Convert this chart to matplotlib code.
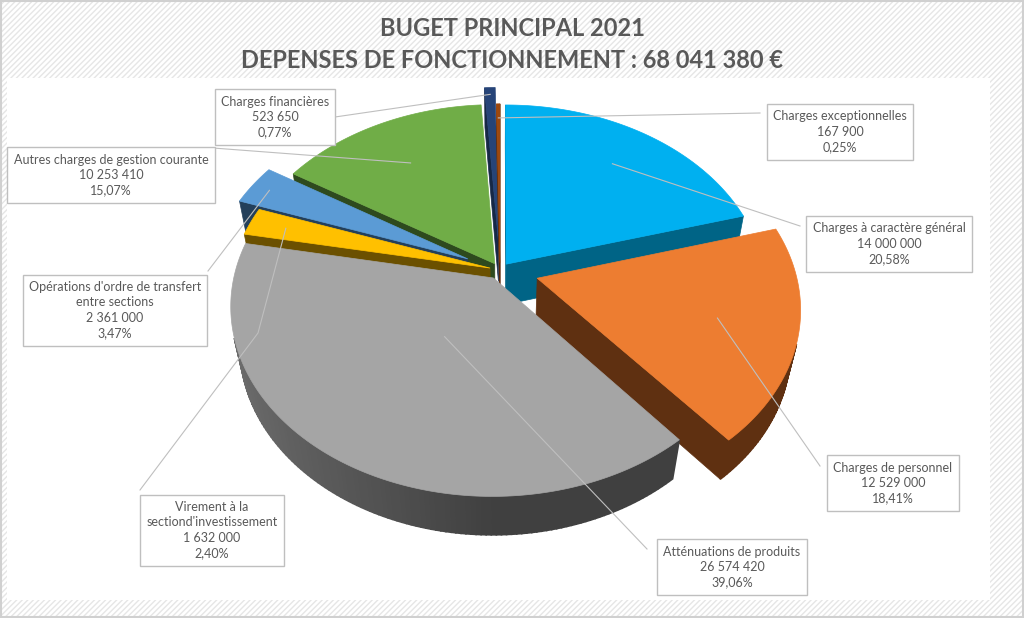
import numpy as np
import matplotlib.pyplot as plt
from matplotlib.patches import Polygon, Rectangle
import matplotlib.colors as mcolors

plt.rcParams['font.family'] = ['Lato', 'DejaVu Sans']
plt.rcParams['hatch.linewidth'] = 1.0

# data (order of the Excel series, first slice starts at 12 o'clock, clockwise)
categories = ["Charges à caractère général", "Charges de personnel", "Atténuations de produits",
              "Virement à la\nsectiond'investissement", "Opérations d'ordre de transfert\nentre sections",
              "Autres charges de gestion courante", "Charges financières", "Charges exceptionnelles"]
amounts = [14000000, 12529000, 26574420, 1632000, 2361000, 10253410, 523650, 167900]
title_lines = ["BUGET PRINCIPAL 2021", "DEPENSES DE FONCTIONNEMENT : 68 041 380 €"]

# styles
top_colors = ['#00B0F0', '#ED7D31', '#A5A5A5', '#FFC000', '#5B9BD5', '#70AD47', '#264478', '#9E480E']
wall_colors = ['#006486', '#5F3011', '#404040', '#6B5000', '#233F5A', '#2E4A1E', '#162846', '#5A2808']
explode = [0.04, 0.15, 0.05, 0.04, 0.14, 0.04, 0.16, 0.04]

# label boxes (centre) and where the leader line leaves the box
label_pos = [(889, 244), (893, 483), (732, 567), (212, 530), (115, 310), (111, 175), (275, 117), (840, 132)]
leader_start = [(800, 226), (820, 466), (647, 549), (140, 490), (208, 271), (213, 148), (335, 117), (760, 113)]
leader_bend = [None, None, None, (258, 333), None, None, None, None]
leader_rho = [0.75, 0.7, 0.35, 0.85, 0.92, 0.7, 0.95, 0.9]

# 3d projection
CX, CY, S = 500, 270, 258
ELEV = np.radians(45.5)
DIST = 4.8
H = 0.23
cam = np.array([0.0, -DIST * np.cos(ELEV), DIST * np.sin(ELEV)])


def project(x, y, z):
    v = y * np.sin(ELEV) + z * np.cos(ELEV)
    d = y * np.cos(ELEV) - z * np.sin(ELEV)
    f = DIST / (DIST + d)
    return CX + S * x * f, CY - S * v * f


def visible(p, n):
    return np.dot(cam - p, n) > 0


fig = plt.figure(figsize=(10.24, 6.18), dpi=100)
ax = fig.add_axes([0, 0, 1, 1])
ax.set_xlim(0, 1024)
ax.set_ylim(618, 0)
ax.axis('off')

# background
ax.add_patch(Rectangle((0, 0), 1024, 618, facecolor='white', edgecolor='#E6E6E6', hatch='//////', lw=0, zorder=0))
ax.add_patch(Rectangle((1, 1), 1022, 616, facecolor='none', edgecolor='#D0D0D0', lw=1.5, zorder=1))
ax.add_patch(Rectangle((7, 78), 983, 522, facecolor='white', edgecolor='none', zorder=1))

for k, t in enumerate(title_lines):
    ax.text(512, 28 + 33 * k, t, ha='center', va='center', fontsize=17, fontweight='bold', color='#595959', zorder=2)

total = sum(amounts)
fracs = np.array(amounts) / total
ends = 90 - np.cumsum(fracs) * 360
starts = ends + fracs * 360

slices = []
for i in range(len(amounts)):
    a, b = np.radians(starts[i]), np.radians(ends[i])
    m = (a + b) / 2
    ox, oy = explode[i] * np.cos(m), explode[i] * np.sin(m)
    n = max(3, int(abs(starts[i] - ends[i])) + 2)
    th = np.linspace(a, b, n)
    faces = []
    wall = np.array(mcolors.to_rgb(wall_colors[i]))
    topc = np.array(mcolors.to_rgb(top_colors[i]))
    # radial faces
    for ang, nrm in ((a, np.array([-np.sin(a), np.cos(a), 0])), (b, np.array([np.sin(b), -np.cos(b), 0]))):
        p = np.array([ox + 0.5 * np.cos(ang), oy + 0.5 * np.sin(ang), -H / 2])
        if visible(p, nrm):
            xs = [ox, ox + np.cos(ang), ox + np.cos(ang), ox]
            ys = [oy, oy + np.sin(ang), oy + np.sin(ang), oy]
            zs = [0, 0, -H, -H]
            faces.append((np.column_stack(project(np.array(xs), np.array(ys), np.array(zs))), wall, 0.5))
    # outer wall
    for j in range(n - 1):
        tm = (th[j] + th[j + 1]) / 2
        nrm = np.array([np.cos(tm), np.sin(tm), 0])
        p = np.array([ox + np.cos(tm), oy + np.sin(tm), -H / 2])
        if visible(p, nrm):
            xs = ox + np.cos([th[j], th[j + 1], th[j + 1], th[j]])
            ys = oy + np.sin([th[j], th[j + 1], th[j + 1], th[j]])
            zs = np.array([0, 0, -H, -H])
            t = 0.45 * max(0, -np.cos(tm)) if np.sin(tm) < 0 else 0
            col = wall * (1 - t) + topc * t
            faces.append((np.column_stack(project(xs, ys, zs)), col, 1.2))
    # top face
    xs = np.concatenate([[ox], ox + np.cos(th)])
    ys = np.concatenate([[oy], oy + np.sin(th)])
    faces.append((np.column_stack(project(xs, ys, np.zeros_like(xs))), topc, 0.5))
    depth = (oy + 0.5 * np.sin(m)) * np.cos(ELEV)
    rho = leader_rho[i]
    anchor = project(ox + rho * np.cos(m), oy + rho * np.sin(m), 0)
    slices.append((depth, faces, anchor))

order = sorted(range(len(slices)), key=lambda i: -slices[i][0])
for z, i in enumerate(order):
    for poly, col, lw in slices[i][1]:
        ax.add_patch(Polygon(poly, closed=True, facecolor=col, edgecolor=col, lw=lw, zorder=3 + z))

# labels
for i in range(len(amounts)):
    amt = f"{amounts[i]:,}".replace(",", " ")
    pct = f"{fracs[i] * 100:.2f}%".replace(".", ",")
    txt = f"{categories[i]}\n{amt}\n{pct}"
    ax.text(label_pos[i][0], label_pos[i][1], txt, ha='center', va='center', multialignment='center',
            fontsize=9, color='#595959', linespacing=1.35, zorder=30,
            bbox=dict(boxstyle='square,pad=0.5', facecolor='white', edgecolor='#BFBFBF', lw=1))
    anc = slices[i][2]
    pts = [leader_start[i]] + ([leader_bend[i]] if leader_bend[i] else []) + [anc]
    ax.plot([p[0] for p in pts], [p[1] for p in pts], color='#BFBFBF', lw=0.8, zorder=29)

fig.savefig('out.png', dpi=100)
